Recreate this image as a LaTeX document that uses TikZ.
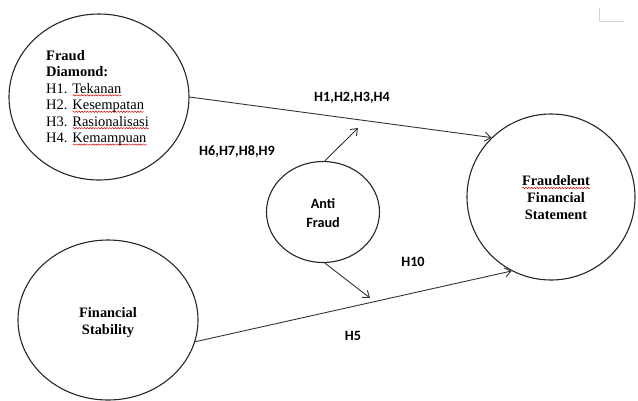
\documentclass[tikz,border=0pt]{standalone}
\usepackage{fontspec}
\setmainfont{Liberation Serif}
\newfontfamily\calibrifont{Carlito}
\usetikzlibrary{shapes.geometric,arrows.meta,decorations.pathmorphing}
\newsavebox\splbox
\newlength\splwd
\newcommand\spl[1]{\sbox\splbox{#1}\setlength\splwd{\wd\splbox}%
  \rlap{\raisebox{-3pt}{\tikz[x=1pt,y=1pt]\draw[red!80!black, line width=0.45pt, decorate, decoration={snake, amplitude=0.7pt, segment length=2.8pt}] (0,0) -- (\splwd,0);}}\usebox\splbox}
\tikzset{
  ell/.style={ellipse, draw=black!85, line width=1.1pt, inner sep=0pt},
  serifbold/.style={font=\fontsize{14.4}{17}\selectfont\bfseries, align=center, inner sep=0pt},
  hlabel/.style={font=\calibrifont\bfseries\fontsize{14.2}{19}\selectfont, inner sep=0pt, text=black},
  conn/.style={draw=black!80, line width=0.9pt},
  arr/.style={conn, -{Straight Barb[length=6pt,width=9pt,line width=0.9pt]}}
}
\begin{document}
\begin{tikzpicture}[x=1pt,y=-1pt]
\useasboundingbox (0,0) rectangle (638,400);
% corner mark
\draw[gray!35, line width=1pt] (599,8) -- (599,21) -- (624,21);
% ellipses
\node[ell, minimum width=180pt, minimum height=166pt] (fd) at (99,97) {};
\node[ell, minimum width=180pt, minimum height=160pt] (fs) at (108,320) {};
\node[ell, minimum width=113pt, minimum height=101pt] (af) at (323,212) {};
\node[ell, minimum width=168pt, minimum height=166pt] (ffs) at (551,197) {};
% texts
\node[anchor=west, align=left, inner sep=0pt, font=\fontsize{14.5}{16.4}\selectfont] (fdtext) at (46,98)
  {\textbf{Fraud}\\ \textbf{Diamond:}\\ H1. \spl{Tekanan}\\ H2. \spl{Kesempatan}\\ H3. \spl{Rasionalisasi}\\ H4. \spl{Kemampuan}};
\node[serifbold] (fstext) at (108,323) {Financial\\ Stability};
\node[serifbold] (ffstext) at (556,198) {\spl{Fraudelent}\\ Financial\\ Statement};
\node[hlabel, align=center] (aftext) at (323,213) {Anti\\ Fraud};
% labels
\node[hlabel] (h14) at (352,98) {H1,H2,H3,H4};
\node[hlabel] (h69) at (237,152) {H6,H7,H8,H9};
\node[hlabel] (h10) at (413,262) {H10};
\node[hlabel] (h5) at (353,336) {H5};
% connectors
\coordinate (upend) at (358,128);
\coordinate (downend) at (370,298);
\draw[arr] (fd.east) -- (ffs.135);
\draw[arr] (fs.-14) -- (ffs.242);
\draw[arr] (af.88) -- (upend);
\draw[arr] (af.-88) -- (downend);
\end{tikzpicture}
\end{document}
